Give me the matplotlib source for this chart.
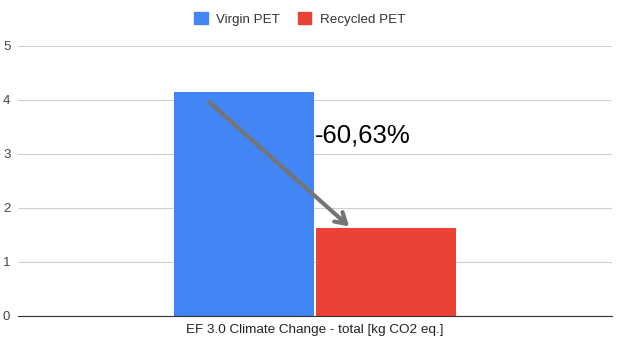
import matplotlib.pyplot as plt
from matplotlib.patches import Patch

plt.rcParams['font.family'] = ['Liberation Sans', 'DejaVu Sans']

category = "EF 3.0 Climate Change - total [kg CO2 eq.]"
series = ["Virgin PET", "Recycled PET"]
values = [4.15, 1.634]
colors = ["#4285F4", "#EA4335"]
change_label = "-60,63%"

fig = plt.figure(figsize=(6.19, 3.46), dpi=100)
ax = fig.add_axes([18 / 619, 30 / 346, 594 / 619, 270 / 346])

w = 0.2357
offsets = [-w / 2 - 0.0025, w / 2 + 0.0025]
for off, v, c in zip(offsets, values, colors):
    ax.bar(off, v, width=w, color=c, zorder=2)

ax.set_xlim(-0.5, 0.5)
ax.set_ylim(0, 5)
ax.set_yticks(range(6))
ax.set_xticks([0])
ax.set_xticklabels([category], fontsize=9.7, color="#222222")
ax.tick_params(axis="x", length=0, pad=6)
ax.tick_params(axis="y", length=0, pad=5.5, labelsize=9.5, labelcolor="#444444")
ax.grid(axis="y", color="#d0d0d0", linewidth=0.8, zorder=0)
for s in ["top", "right", "left"]:
    ax.spines[s].set_visible(False)
ax.spines["bottom"].set_color("#333333")
ax.spines["bottom"].set_zorder(3)

# arrow from the virgin bar down to the recycled bar
ax.annotate("", xy=(0.061, values[1] - 0.01), xytext=(-0.182, 4.0),
            arrowprops=dict(arrowstyle="->,head_length=0.75,head_width=0.45",
                            color="#757575", lw=3), zorder=4)
ax.text(0.0, 3.35, change_label, fontsize=18.5, color="black",
        va="center", ha="left")

handles = [Patch(color=c, label=s) for s, c in zip(series, colors)]
fig.legend(handles=handles, loc="upper center", bbox_to_anchor=(0.484, 1.0),
           ncol=2, frameon=False, fontsize=9.6, handlelength=1.0,
           handleheight=1.0, columnspacing=1.3, handletextpad=0.65,
           labelcolor="#333333")

fig.savefig("out.png", dpi=100)
